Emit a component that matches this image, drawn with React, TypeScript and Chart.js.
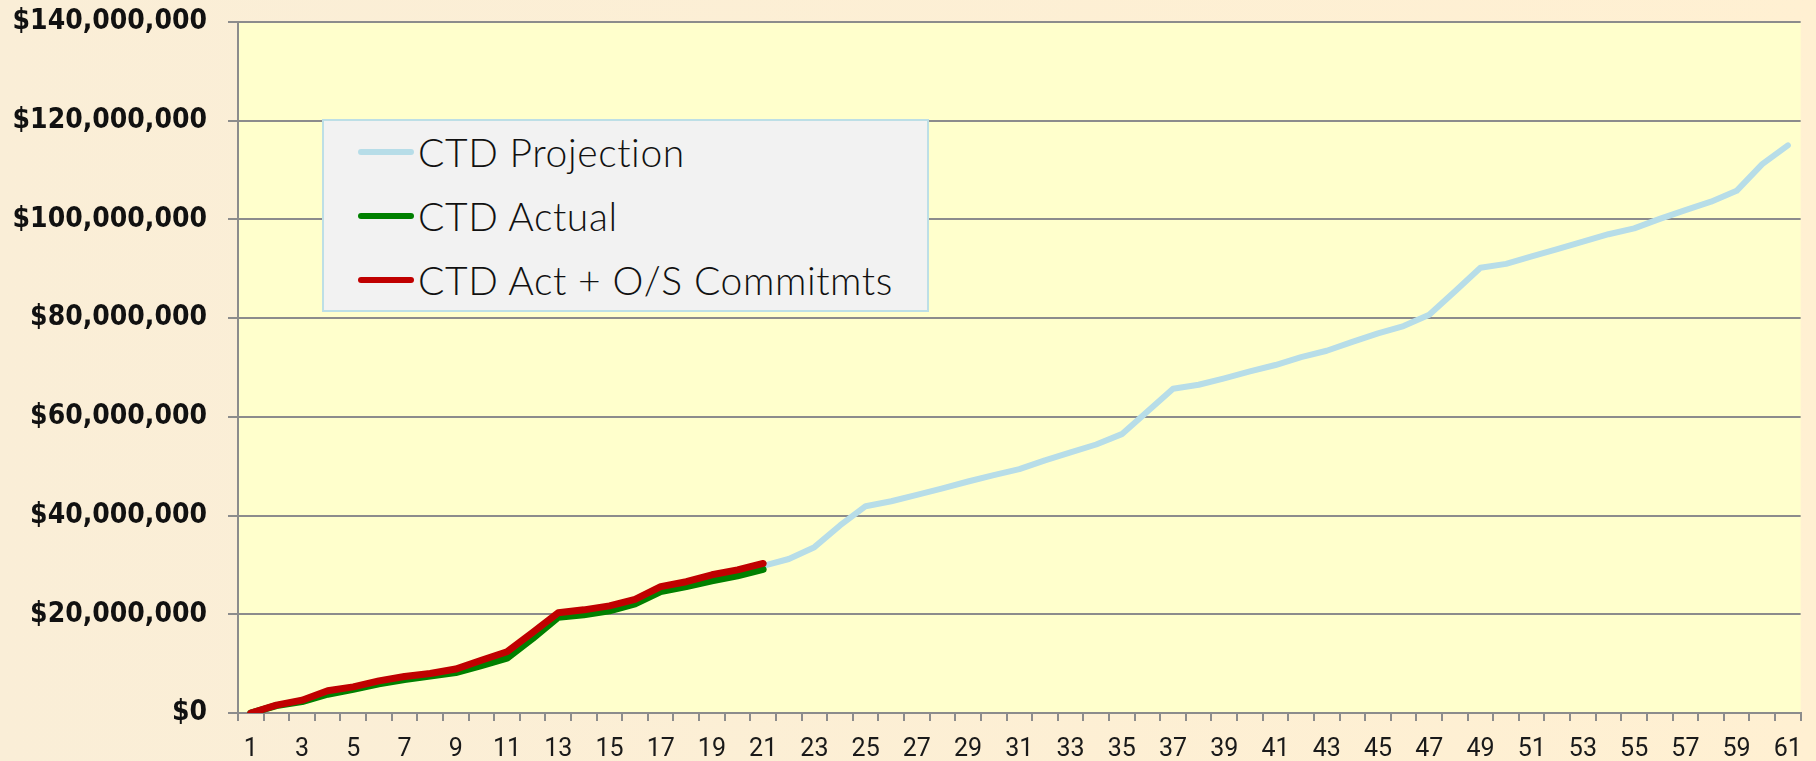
import React, { useEffect, useRef } from "react";
import { Chart, registerables } from "chart.js";

Chart.register(...registerables);

const periods: string[] = Array.from({ length: 61 }, (_, i) => String(i + 1));

const ctdProjection: number[] = [
  0, 1.6, 2.6, 4.4, 5.3, 6.4, 7.3, 8.0, 8.8, 10.6,
  12.3, 16.2, 20.2, 20.8, 21.6, 22.9, 25.5, 26.5, 27.9, 28.9,
  29.8, 31.2, 33.6, 38.0, 41.9, 42.9, 44.2, 45.5, 46.9, 48.2,
  49.4, 51.2, 52.8, 54.4, 56.5, 61.1, 65.7, 66.5, 67.8, 69.2,
  70.5, 72.1, 73.4, 75.2, 76.9, 78.4, 80.7, 85.4, 90.2, 91.0,
  92.5, 94.0, 95.5, 97.0, 98.2, 100.1, 101.9, 103.6, 105.8, 111.2,
  115.0,
].map((v) => v * 1e6);

const ctdActual: number[] = [
  0, 1.5, 2.3, 3.8, 4.8, 5.9, 6.8, 7.5, 8.2, 9.6,
  11.1, 15.1, 19.4, 19.9, 20.7, 22.1, 24.6, 25.6, 26.8, 27.8,
  29.1,
].map((v) => v * 1e6);

const ctdCommitments: number[] = [
  0, 1.6, 2.6, 4.5, 5.3, 6.5, 7.4, 8.0, 8.9, 10.7,
  12.4, 16.3, 20.3, 20.9, 21.7, 23.0, 25.6, 26.6, 28.0, 29.0,
  30.3,
].map((v) => v * 1e6);

const seriesNames: string[] = ["CTD Projection", "CTD Actual", "CTD Act + O/S Commitmts"];
const seriesColors: string[] = ["#B7DDE8", "#008000", "#C00000"];

const yMin = 0;
const yMax = 140000000;
const yStep = 20000000;

const GRID = "#8C8C8C";

const plotBg = {
  id: "plotBg",
  beforeDraw(chart: any) {
    const { ctx, chartArea } = chart;
    if (!chartArea) return;
    ctx.save();
    ctx.fillStyle = "#FFFFCC";
    ctx.fillRect(chartArea.left, chartArea.top, chartArea.right - chartArea.left, chartArea.bottom - chartArea.top);
    ctx.restore();
  },
};

export default function App() {
  const canvasRef = useRef<HTMLCanvasElement | null>(null);

  useEffect(() => {
    document.body.style.margin = "0";
    const canvas = canvasRef.current;
    if (!canvas) return;
    const lineCommon = {
      pointRadius: 0,
      tension: 0,
      borderCapStyle: "round" as const,
      borderJoinStyle: "round" as const,
    };
    const chart = new Chart(canvas, {
      type: "line",
      data: {
        labels: periods,
        datasets: [
          {
            label: seriesNames[2],
            data: ctdCommitments,
            borderColor: seriesColors[2],
            backgroundColor: seriesColors[2],
            borderWidth: 7,
            order: 0,
            ...lineCommon,
          },
          {
            label: seriesNames[1],
            data: ctdActual,
            borderColor: seriesColors[1],
            backgroundColor: seriesColors[1],
            borderWidth: 7,
            order: 1,
            ...lineCommon,
          },
          {
            label: seriesNames[0],
            data: ctdProjection,
            borderColor: seriesColors[0],
            backgroundColor: seriesColors[0],
            borderWidth: 6,
            order: 2,
            ...lineCommon,
          },
        ],
      },
      options: {
        responsive: false,
        animation: false,
        devicePixelRatio: 1,
        layout: { padding: { top: 22, right: 12, left: 0, bottom: 0 } },
        plugins: {
          legend: { display: false },
          tooltip: { enabled: false },
        },
        scales: {
          x: {
            type: "category",
            offset: true,
            grid: {
              offset: true,
              drawOnChartArea: false,
              drawTicks: true,
              tickLength: 8,
              color: GRID,
              lineWidth: 2,
            },
            border: { display: true, color: GRID, width: 2 },
            ticks: {
              autoSkip: false,
              maxRotation: 0,
              minRotation: 0,
              padding: 14,
              color: "#1a1a1a",
              font: { family: "Roboto, 'DejaVu Sans', sans-serif", size: 25 },
              callback: (_v: any, idx: number) => (idx % 2 === 0 ? periods[idx] : ""),
            },
            afterFit: (scale: any) => {
              scale.height = 48;
            },
          },
          y: {
            min: yMin,
            max: yMax,
            grid: {
              color: GRID,
              lineWidth: 2,
              drawTicks: true,
              tickLength: 10,
            },
            border: { display: true, color: GRID, width: 2 },
            ticks: {
              stepSize: yStep,
              padding: 21,
              color: "#111111",
              font: { family: "'DejaVu Sans Condensed', 'DejaVu Sans', sans-serif", size: 28, weight: "bold" },
              callback: (v: any) => "$" + Number(v).toLocaleString("en-US"),
            },
            afterFit: (scale: any) => {
              scale.width = 238;
              scale.paddingTop = 0;
              scale.paddingBottom = 0;
            },
          },
        },
      },
      plugins: [plotBg],
    });
    return () => chart.destroy();
  }, []);

  const rowCenters = [33, 97, 161];

  return (
    <div
      style={{
        position: "relative",
        width: 1816,
        height: 761,
        background: "linear-gradient(to right, #FAEED7, #FFF0D2)",
        overflow: "hidden",
      }}
    >
      <canvas ref={canvasRef} width={1816} height={761} style={{ display: "block", width: 1816, height: 761 }} />
      <div
        style={{
          position: "absolute",
          left: 322,
          top: 119,
          width: 607,
          height: 193,
          boxSizing: "border-box",
          background: "#F2F2F2",
          border: "2px solid #BDDFE6",
        }}
      >
        {seriesNames.map((name, i) => (
          <React.Fragment key={name}>
            <div
              style={{
                position: "absolute",
                left: 34,
                top: rowCenters[i] - 3 - 2,
                width: 56,
                height: 6,
                borderRadius: 3,
                background: seriesColors[i],
              }}
            />
            <div
              style={{
                position: "absolute",
                left: 94,
                top: rowCenters[i] - 22 - 2,
                height: 44,
                lineHeight: "44px",
                fontFamily: "Lato, 'DejaVu Sans', sans-serif",
                fontWeight: 300,
                fontSize: 39,
                letterSpacing: "0.6px",
                color: "#111111",
                whiteSpace: "nowrap",
              }}
            >
              {name}
            </div>
          </React.Fragment>
        ))}
      </div>
    </div>
  );
}
